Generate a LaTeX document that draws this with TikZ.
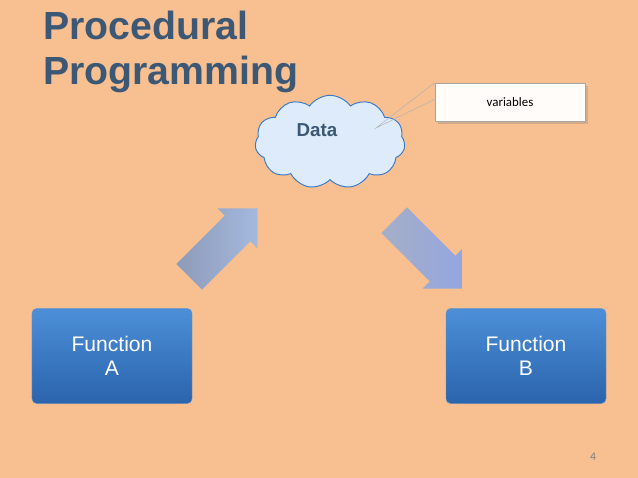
\documentclass[tikz,border=0pt]{standalone}
\usepackage{fontspec}
\setmainfont{Liberation Sans}
\newfontfamily\calfont{Carlito}
\usetikzlibrary{shapes.symbols,shapes.arrows,shadows}
\definecolor{peach}{HTML}{F8BF90}
\definecolor{titleblue}{HTML}{3D5874}
\definecolor{funcdark}{HTML}{2A64AC}
\definecolor{funclight}{HTML}{4C8FD8}
\definecolor{cloudfill}{HTML}{DDEBFA}
\definecolor{cloudline}{HTML}{3A78C8}
\definecolor{arrowgray}{HTML}{8E9BB8}
\definecolor{arrowblue}{HTML}{A4B8DE}
\tikzset{
  funcbox/.style={draw=funcdark!70!white, rounded corners=4pt, minimum width=4.8cm, minimum height=2.85cm,
    top color=funclight, bottom color=funcdark, text=white, align=center, font=\fontsize{18}{21}\selectfont},
  blockarrow/.style={single arrow, minimum height=2.9cm, minimum width=1.7cm, single arrow head extend=0.2cm,
    inner sep=0.35cm, draw=none},
}
\begin{document}
\begin{tikzpicture}[x=0.03cm,y=-0.03cm]
	\fill[peach] (0,0) rectangle (638,478);
	\useasboundingbox (0,0) rectangle (638,478);
	% title
	\node[anchor=north west, text=titleblue, align=left, font=\bfseries\fontsize{33.5}{38}\selectfont] (title) at (39,7) {Procedural\\Programming};
	% data cloud
	\node[cloud, cloud puffs=11, cloud puff arc=110, aspect=1.7, draw=cloudline, thick, fill=cloudfill,
	  minimum width=4.5cm, minimum height=2.8cm] (data) at (330,142) {};
	\node[text=titleblue, font=\bfseries\fontsize{16}{18}\selectfont] (datatxt) at (317,130) {Data};
	% callout
	\node[draw=gray!70, fill=white!95!peach, drop shadow={opacity=0.3}, minimum width=4.5cm, minimum height=1.15cm,
	  font=\calfont\fontsize{11}{13}\selectfont] (vars) at (510,102) {variables};
	\coordinate (tip) at (376,128);
	\draw[gray!60, thin] (vars.north west) -- (tip) -- ([yshift=-0.5cm]vars.north west);
	% arrows
	\node[blockarrow, rotate=45, left color=arrowgray, right color=arrowblue] (up) at (217,249) {};
	\node[blockarrow, rotate=-45, left color=arrowgray!80!white, right color=arrowblue!90!blue] (down) at (422,248) {};
	% functions
	\node[funcbox] (funA) at (112,356) {Function\\A};
	\node[funcbox] (funB) at (526,356) {Function\\B};
	\node[text=gray, font=\calfont\fontsize{10}{12}\selectfont] (page) at (593,457) {4};
\end{tikzpicture}
\end{document}
